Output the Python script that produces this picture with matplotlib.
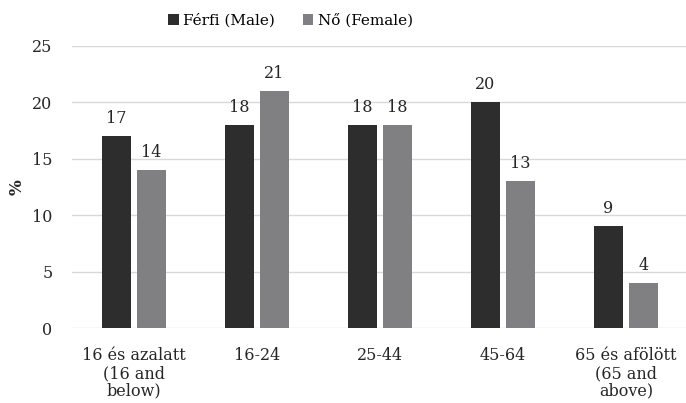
import numpy as np
import matplotlib.pyplot as plt

categories = ['16 és azalatt\n(16 and\nbelow)', '16-24', '25-44', '45-64',
              '65 és afölött\n(65 and\nabove)']
male = [17, 18, 18, 20, 9]
female = [14, 21, 18, 13, 4]

plt.rcParams['font.family'] = ['DejaVu Serif']

fig = plt.figure(figsize=(6.86, 4.03), dpi=100)
ax = fig.add_axes([0.105, 0.186, 0.897, 0.700])

x = np.arange(len(categories))
w = 0.236
off = 0.142
b1 = ax.bar(x - off, male, w, color='#2e2d2e', label='Férfi (Male)', zorder=3)
b2 = ax.bar(x + off, female, w, color='#808083', label='Nő (Female)', zorder=3)

for bars, vals in ((b1, male), (b2, female)):
    for r, v in zip(bars, vals):
        ax.text(r.get_x() + r.get_width() / 2, v + 0.8, str(v),
                ha='center', va='bottom', fontsize=11.5, color='#262626')

ax.set_xlim(-0.5, len(categories) - 0.5)
ax.set_ylim(0, 25)
ax.set_yticks(range(0, 26, 5))
ax.yaxis.grid(True, color='#d9d9d9', linewidth=1, zorder=0)
for s in ax.spines.values():
    s.set_visible(False)
ax.tick_params(length=0, labelsize=11.5, colors='#262626')
ax.tick_params(axis='y', pad=14)
ax.tick_params(axis='x', pad=14)
ax.set_xticks(x)
ax.set_xticklabels(categories, linespacing=1.05)
ax.set_ylabel('%', fontsize=12, fontweight='bold', labelpad=5, color='#262626')

ax.legend(loc='lower center', bbox_to_anchor=(0.355, 1.015), ncol=2, frameon=False,
          fontsize=11, handlelength=0.7, handleheight=0.7, handletextpad=0.3,
          columnspacing=1.8)

fig.savefig('out.png', dpi=100)
